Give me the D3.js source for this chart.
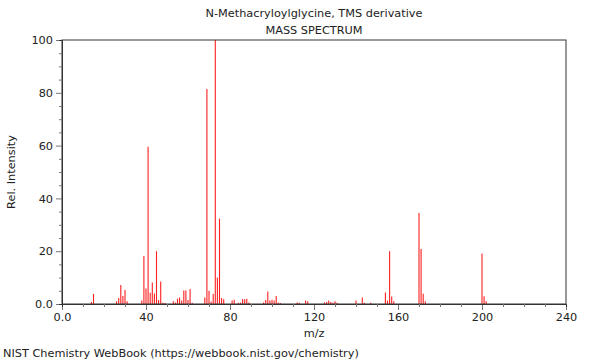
<!DOCTYPE html>
<html>
<head>
<meta charset="utf-8">
<script src="https://cdn.jsdelivr.net/npm/d3@7"></script>
<style>
  html, body { margin: 0; padding: 0; background: #fff; }
  svg { display: block; }
  text { font-family: "DejaVu Sans", sans-serif; fill: #222; }
</style>
</head>
<body>
<svg id="chart" width="600" height="360"></svg>
<script>
const titleLines = ["N-Methacryloylglycine, TMS derivative", "MASS SPECTRUM"];
const xLabel = "m/z";
const yLabel = "Rel. Intensity";
const footer = "NIST Chemistry WebBook (https://webbook.nist.gov/chemistry)";

const mz = [14, 15, 26, 27, 28, 29, 30, 31, 38, 39, 40, 41, 42, 43, 44, 45, 46, 47, 48, 49,
  53, 54, 55, 56, 57, 58, 59, 60, 61, 62, 68, 69, 70, 71, 72, 73, 74, 75, 76, 77,
  81, 82, 84, 85, 86, 87, 88, 89, 96, 97, 98, 99, 100, 101, 102, 103, 104,
  112, 113, 116, 117, 125, 126, 127, 128, 129, 130, 131, 140, 143, 144, 147,
  154, 155, 156, 157, 158, 170, 171, 172, 173, 200, 201, 202];
const intensity = [0.8, 3.8, 1.0, 2.3, 7.2, 3.0, 5.3, 1.0, 1.3, 18.2, 5.9, 59.6, 4.3, 8.1, 4.0, 20.0, 1.5, 8.5, 0.5, 0.4,
  1.0, 0.6, 2.0, 2.5, 1.3, 5.1, 5.1, 1.5, 5.7, 0.5, 2.5, 81.4, 5.0, 0.9, 3.8, 100, 10.0, 32.3, 2.3, 1.8,
  1.3, 1.6, 0.5, 0.5, 1.9, 1.8, 2.0, 0.6, 0.6, 1.5, 4.7, 1.3, 1.6, 1.3, 3.0, 0.6, 0.4,
  0.6, 0.5, 1.3, 1.0, 0.6, 0.8, 1.3, 0.8, 0.5, 1.0, 0.5, 1.3, 2.5, 0.5, 0.5,
  4.4, 1.3, 20.0, 2.8, 1.0, 34.5, 20.8, 3.9, 1.0, 19.1, 2.9, 1.0];

const xMajorTicks = [0, 40, 80, 120, 160, 200, 240];
const xTickLabels = ["0.0", "40", "80", "120", "160", "200", "240"];
const yMajorTicks = [0, 20, 40, 60, 80, 100];
const yTickLabels = ["0.0", "20", "40", "60", "80", "100"];

const svg = d3.select("#chart");
const mLeft = 62, mRight = 566, mTop = 40, mBottom = 304;
const fs = 11.3;

const x = d3.scaleLinear().domain([0, 240]).range([mLeft, mRight]);
const y = d3.scaleLinear().domain([0, 100]).range([mBottom, mTop]);

const data = mz.map((m, i) => ({ m, v: intensity[i] }));

// bars
svg.append("g").selectAll("line").data(data).join("line")
  .attr("x1", d => x(d.m)).attr("x2", d => x(d.m))
  .attr("y1", y(0)).attr("y2", d => y(d.v))
  .attr("stroke", "#ff1f1f").attr("stroke-width", 1.1);

// frame
svg.append("rect").attr("x", mLeft).attr("y", mTop)
  .attr("width", mRight - mLeft).attr("height", mBottom - mTop)
  .attr("fill", "none").attr("stroke", "#333").attr("stroke-width", 1);

// x axis
const xMinor = d3.range(0, 241, 10).filter(v => !xMajorTicks.includes(v));
const xAxisMajor = d3.axisBottom(x).tickValues(xMajorTicks)
  .tickFormat((d, i) => xTickLabels[i]).tickSize(6).tickPadding(3);
const xAxisMinor = d3.axisBottom(x).tickValues(xMinor).tickFormat("").tickSize(3);
const gx = svg.append("g").attr("transform", `translate(0,${mBottom})`).call(xAxisMajor);
const gx2 = svg.append("g").attr("transform", `translate(0,${mBottom})`).call(xAxisMinor);
[gx, gx2].forEach(g => {
  g.select(".domain").attr("stroke", "#333");
  g.selectAll(".tick line").attr("stroke", "#777");
});
gx.selectAll(".tick text").attr("font-size", fs).attr("font-family", "DejaVu Sans").attr("fill", "#222");

// y axis
const yMinor = d3.range(0, 101, 5).filter(v => !yMajorTicks.includes(v));
const yAxisMajor = d3.axisLeft(y).tickValues(yMajorTicks)
  .tickFormat((d, i) => yTickLabels[i]).tickSize(6).tickPadding(3);
const yAxisMinor = d3.axisLeft(y).tickValues(yMinor).tickFormat("").tickSize(3);
const gy = svg.append("g").attr("transform", `translate(${mLeft},0)`).call(yAxisMajor);
const gy2 = svg.append("g").attr("transform", `translate(${mLeft},0)`).call(yAxisMinor);
[gy, gy2].forEach(g => {
  g.select(".domain").attr("stroke", "#333");
  g.selectAll(".tick line").attr("stroke", "#777");
});
gy.selectAll(".tick text").attr("font-size", fs).attr("font-family", "DejaVu Sans").attr("fill", "#222");

// titles
svg.append("text").attr("x", 314).attr("y", 17).attr("text-anchor", "middle")
  .attr("font-size", fs).text(titleLines[0]);
svg.append("text").attr("x", 314).attr("y", 34).attr("text-anchor", "middle")
  .attr("font-size", fs).text(titleLines[1]);

svg.append("text").attr("x", 314).attr("y", 337).attr("text-anchor", "middle")
  .attr("font-size", fs).text(xLabel);
svg.append("text").attr("transform", `translate(15,${(mTop + mBottom) / 2}) rotate(-90)`)
  .attr("text-anchor", "middle").attr("font-size", fs).text(yLabel);
svg.append("text").attr("x", 3).attr("y", 357).attr("font-size", fs).text(footer);
</script>
</body>
</html>
